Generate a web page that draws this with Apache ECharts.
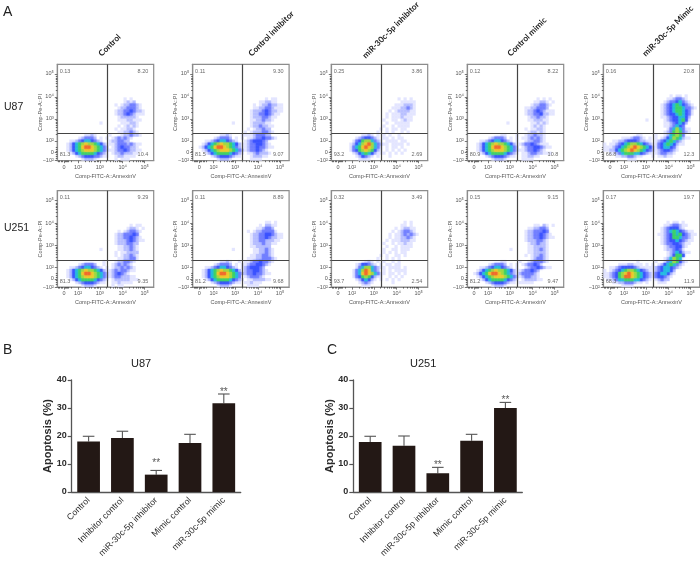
<!DOCTYPE html>
<html>
<head>
<meta charset="utf-8">
<title>Apoptosis flow cytometry</title>
<script src="https://cdn.jsdelivr.net/npm/echarts@6/dist/echarts.min.js"></script>
<style>
  html, body { margin: 0; padding: 0; background: #fff; }
  #chart { width: 700px; height: 565px; }
</style>
</head>
<body>
<div id="chart"></div>
<script>
// Flow plot names
const columnNames = ['Control', 'Control inhibitor', 'miR-30c-5p inhibitor', 'Control mimic', 'miR-30c-5p Mimic'];
const rowNames = ['U87', 'U251'];

// Quadrant percentages: upper left, upper right, lower left, lower right
const quadU87 = [
  ['0.13', '8.20', '81.3', '10.4'],
  ['0.11', '9.30', '81.5', '9.07'],
  ['0.25', '3.86', '93.2', '2.69'],
  ['0.12', '8.22', '80.9', '10.8'],
  ['0.16', '20.8', '66.8', '12.3']
];
const quadU251 = [
  ['0.11', '9.29', '81.3', '9.35'],
  ['0.11', '8.89', '81.2', '9.68'],
  ['0.32', '3.49', '93.7', '2.54'],
  ['0.15', '9.15', '81.2', '9.47'],
  ['0.17', '19.7', '68.3', '11.9']
];

// Flow axes, in density grid channels (32 x 32)
const xTickValues = [2.2, 6.9, 14.1, 21.7, 29];
const xTickLabels = ['0', '10²', '10³', '10⁴', '10⁵'];
const yTickValues = [0, 2.7, 6.6, 13.9, 21.2, 28.8];
const yTickLabels = ['−10²', '0', '10²', '10³', '10⁴', '10⁵'];
const xMinorTicks = [0.4, 0.8, 1.2, 1.6, 2.6, 3, 3.4, 3.8, 4.6, 9.2, 10.5, 11.4, 12.1, 12.7, 13.2, 13.6, 16.4, 17.7, 18.7, 19.4, 20, 20.5, 21, 21.3, 24, 25.3, 26.3, 27, 27.6, 28.1, 28.6];
const yMinorTicks = [0.8, 1.6, 2.2, 3.2, 3.8, 4.6, 8.8, 10, 11, 11.7, 12.3, 12.8, 13.3, 16.1, 17.4, 18.4, 19.1, 19.7, 20.2, 20.7, 23.4, 24.7, 25.7, 26.4, 27, 27.5, 28];
const gateX = 16.55;
const gateY = 9;

// Density: one digit per cell, lowest row of the plot last
const u87Control = [
  '......................1.1.......',
  '......................1212......',
  '...................1.1223321....',
  '....................12233321....',
  '...................1223343221...',
  '...................1223432111...',
  '....................1222221.....',
  '....................11122111....',
  '..............1......111221.....',
  '....................1.12121.....',
  '...................1.11221......',
  '....................1122321.....',
  '.........1121....1...1223221....',
  '.......123332.1.1.1232321.......',
  '....11234554321..1223322........',
  '...1245678776542111233323211....',
  '...12456899876532.123433221.....',
  '...1245678887653211233432211....',
  '....1245666654321.122322211.....',
  '......12344433211..1221111......',
  '........12221......1.111........'
];
const u87Inhibitor = [
  '........................1.11....',
  '......................112211....',
  '....................1.12232211..',
  '....................1122332111..',
  '...................12223432211..',
  '...................1223343211...',
  '...................122233211....',
  '...................11223221.....',
  '.............1.....1222211......',
  '...................12232211.....',
  '..................1.122322......',
  '.................1.12223321.....',
  '.........1121...1111233322......',
  '.......123332.1.1.1123343321....',
  '....11234554321..12344432.......',
  '...12456787765421123344321......',
  '..1245689987653211233433211.....',
  '...1245678887653212334321.......',
  '....1245666654321.11232221......',
  '......1234443211...122211.......',
  '........12221......1111.........'
];
const u87MirInhibitor = [
  '......................1.1.1.....',
  '.......................11111....',
  '.....................1112221....',
  '....................11122321....',
  '...................1.1222211....',
  '..................1.11122111....',
  '..................1.1112111.....',
  '.................1..11.1211.....',
  '..................1..11111......',
  '.................1..1.1111......',
  '................1.1.11.11.......',
  '...............1..1.1..1.1......',
  '..........1121.1.1.1..1.........',
  '........12344321.11.1.11........',
  '.......1346775321.1111.11.......',
  '......1245789753211.1111.1......',
  '......13568987531.1.11.1........',
  '......13467876421.1.1.1.1.......',
  '.......12456542111.1.1.1........',
  '........124321.1...1............',
  '.........1111...................'
];
const u87MimicControl = [
  '.......................1.1.1....',
  '......................11221.1...',
  '.....................1223321....',
  '...................11223332.....',
  '...................1223432111...',
  '...................1223342211...',
  '....................1223221.....',
  '....................1122211.....',
  '.............1.......112121.....',
  '.....................12121......',
  '...................1.11221......',
  '....................122121......',
  '...........11...1..1223221......',
  '.......123332.1.1.11232321......',
  '....11234554321.1..1223321......',
  '...124567877654211233432111.....',
  '...12456899876532.1233443211....',
  '...12456788876532112334321......',
  '....1245666654321.1123322111....',
  '......1234443211..112211........',
  '........12221.....1111..........'
];
const u87MirMimic = [
  '......................1.11.1....',
  '.....................1123321....',
  '....................123345321...',
  '...................12345654321..',
  '...................123456653321.',
  '...................12345665431..',
  '...................12344565431..',
  '...................1123445542...',
  '..............1.....123445641...',
  '....................11234542....',
  '....................1123543.....',
  '.....................13575311...',
  '....................123676321...',
  '...........11....1..1256763.....',
  '......11123321.1.1.1245765211...',
  '...1122344432211.1234565321.....',
  '1.1123456776543211345654211.....',
  '1112345678987654213455431.......',
  '1122456789876543212344321.......',
  '..1123566655432111233221........',
  '....112233211...1.11211.........',
  '........111.....................'
];
const u251Control = [
  '........................1.11....',
  '.......................1221.1...',
  '....................1.123321....',
  '...................12233343.....',
  '...................122334321....',
  '...................1222343211...',
  '...................12223322.....',
  '....................1122321.....',
  '..............1.....1122321.....',
  '...................1.112222.....',
  '...................1.122321.....',
  '....................1122331.....',
  '...............1...1223321......',
  '.......123332..1..1232321.......',
  '....11234554321.1.12232321......',
  '...12456787765421123233211......',
  '...124568998765321234321........',
  '...12456788876532123322211......',
  '....1245666654321.122222111.....',
  '......1234443211..1121111.......',
  '........12221.....1.11..........'
];
const u251Inhibitor = [
  '........................11.1....',
  '......................1.2211....',
  '.....................112332.....',
  '..................1.12233331....',
  '...................12233443211..',
  '...................12233432211..',
  '...................1223322211...',
  '...................122232211....',
  '...................1122222......',
  '.............1......1122321.....',
  '....................1122321.....',
  '...................11223321.....',
  '..................1112233321....',
  '.........1121..1.1123343321.....',
  '.......123332.1.1123344321......',
  '....11234554321.12344432........',
  '...1245678776542123344321.......',
  '...12456899876532233433211......',
  '...1245678887653.1233321........',
  '....1245666654321.11222211......',
  '......1234443211.112111.........',
  '........12221.....1111..........'
];
const u251MirInhibitor = [
  '........................1.1.....',
  '.......................11.1.....',
  '.....................1.12211....',
  '....................1.123321....',
  '...................1.11232321...',
  '...................1.1122321....',
  '..................1.11122211....',
  '.................1..1.11211.....',
  '..................1..1.1111.....',
  '.................1..11.111......',
  '.................1.1.1.11.......',
  '................1.1..11.1.......',
  '...............1..1.1.1.........',
  '...........121.1.1..1.1.........',
  '........1244321.1.11.11.........',
  '........1357753211.1111.1.......',
  '.......135798532.1.1.1111.......',
  '.......13589875311.11.1.1.......',
  '.......1346764211..1.1.1........',
  '........1245421.1.1.1.1.........',
  '.........12321......1...........',
  '..........111...................'
];
const u251MimicControl = [
  '......................11.21.1...',
  '....................1122332.....',
  '...................12233343.....',
  '...................122334321....',
  '...................1223343211...',
  '...................12223321.....',
  '....................1223221.....',
  '....................1122221.....',
  '..............1.....1122321.....',
  '....................1122221.....',
  '...................1.122321.....',
  '.....................123321.....',
  '...........11....1..1233321.....',
  '.......123332.1.1.1233431.......',
  '....11234554321.1..123343211....',
  '...124567877654211233432........',
  '..1245689987653212333321........',
  '...124567888765321233221........',
  '....1245666654321.1222211.......',
  '......1234443211.11111..........',
  '........12221...................'
];
const u251MirMimic = [
  '.....................1.11.1.....',
  '....................11233211....',
  '...................12344421.....',
  '...................12356543211..',
  '..................1123465643211.',
  '...................12346653321..',
  '...................12344543211..',
  '...................1233443211...',
  '....................12334421....',
  '....................1223431.....',
  '.....................12354211...',
  '.....................124664.....',
  '....................125765......',
  '...........1.....1..13576421....',
  '.....11122111.1.1.124565321.....',
  '..112344443211111234554321......',
  '1.1234567765432112345542........',
  '112346789876543213455421........',
  '11234679987654321344321.........',
  '.112355666554321.12322..........',
  '...1122333211.1...111...........',
  '......1111......................'
];

// Bar charts
const barCategories = ['Control', 'Inhibitor control', 'miR-30c-5p inhibitor', 'Mimic control', 'miR-30c-5p mimic'];
const u87Values = [18.0, 19.3, 6.2, 17.5, 31.7];
const u87ErrorTop = [19.9, 21.7, 7.7, 20.6, 35.0];
const u87Stars = [null, null, 10.2, null, 35.6];
const u251Values = [17.9, 16.5, 6.7, 18.3, 30.0];
const u251ErrorTop = [19.9, 20.0, 8.8, 20.6, 32.0];
const u251Stars = [null, null, 9.4, null, 32.9];
const starText = '**';
const yTicksBar = { min: 0, max: 40, interval: 10 };

// Colours of the density levels, white to red
const densityColors = ['#ffffff', '#dcdfff', '#a8b0ff', '#6a78ff', '#3048ff', '#18b8e0', '#30d060', '#98d83a', '#eec820', '#f06020'];

const flowData = [
  [u87Control, u87Inhibitor, u87MirInhibitor, u87MimicControl, u87MirMimic],
  [u251Control, u251Inhibitor, u251MirInhibitor, u251MimicControl, u251MirMimic]
];
const flowQuads = [quadU87, quadU251];

// Layout in pixels
const flowLefts = [57.3, 192.7, 331.3, 467.3, 603.3];
const flowTops = [64.3, 190.7];
const flowSize = 96.4;
const labelFont = '"Liberation Sans", "DejaVu Sans", sans-serif';

// Hot cells are drawn last so that their soft edge lies over the cooler ones
function densityCells(rows) {
  const cells = [];
  rows.forEach((row, i) => {
    const rowIndex = rows.length - 1 - i;
    row.split('').forEach((ch, col) => {
      if (ch !== '.') {
        const level = Number(ch);
        cells.push({
          value: [col + 0.5, rowIndex + 0.5, level],
          itemStyle: { color: densityColors[level], shadowColor: densityColors[level], shadowBlur: level >= 3 ? 2 : 0 }
        });
      }
    });
  });
  return cells.sort((a, b) => a.value[2] - b.value[2]);
}

const grid = [];
const xAxis = [];
const yAxis = [];
const series = [];

function addFlowPlot(rows, quad, left, top) {
  const gridIndex = grid.length;
  const mainX = xAxis.length;
  const mainY = yAxis.length;
  grid.push({ left: left, top: top, width: flowSize, height: flowSize, show: true, borderColor: '#8c8c8c', borderWidth: 1.2, backgroundColor: '#fff' });

  const lineStyle = { color: '#8c8c8c', width: 1.2 };
  xAxis.push({
    type: 'value', gridIndex: gridIndex, min: 0, max: 32, position: 'bottom', splitLine: { show: false },
    axisLine: { show: true, onZero: false, lineStyle: lineStyle },
    axisTick: { show: true, length: 2.5, customValues: xTickValues, lineStyle: { color: '#555', width: 0.8 } },
    axisLabel: {
      customValues: xTickValues, margin: 3.5, fontSize: 5.5, color: '#555', fontFamily: labelFont,
      formatter: v => xTickLabels[xTickValues.indexOf(v)]
    },
    name: 'Comp-FITC-A::AnnexinV', nameLocation: 'middle', nameGap: 12.5, nameMoveOverlap: false,
    nameTextStyle: { fontSize: 5.5, color: '#555', fontFamily: labelFont }
  });
  xAxis.push({
    type: 'value', gridIndex: gridIndex, min: 0, max: 32, position: 'bottom', splitLine: { show: false },
    axisLine: { show: false },
    axisLabel: { show: false },
    axisTick: { show: true, length: 1.5, customValues: xMinorTicks, lineStyle: { color: '#333', width: 0.7 } }
  });
  yAxis.push({
    type: 'value', gridIndex: gridIndex, min: 0, max: 32, position: 'left', splitLine: { show: false },
    axisLine: { show: true, onZero: false, lineStyle: lineStyle },
    axisTick: { show: true, length: 2.5, customValues: yTickValues, lineStyle: { color: '#555', width: 0.8 } },
    axisLabel: {
      customValues: yTickValues, margin: 3.5, fontSize: 5.5, color: '#555', fontFamily: labelFont,
      formatter: v => yTickLabels[yTickValues.indexOf(v)]
    },
    name: 'Comp-Pe-A::PI', nameLocation: 'middle', nameGap: 14, nameMoveOverlap: false,
    nameTextStyle: { fontSize: 5.5, color: '#555', fontFamily: labelFont }
  });
  yAxis.push({
    type: 'value', gridIndex: gridIndex, min: 0, max: 32, position: 'left', splitLine: { show: false },
    axisLine: { show: false },
    axisLabel: { show: false },
    axisTick: { show: true, length: 1.5, customValues: yMinorTicks, lineStyle: { color: '#333', width: 0.7 } }
  });

  series.push({
    type: 'scatter', xAxisIndex: mainX, yAxisIndex: mainY, symbol: 'rect', symbolSize: 3.2, silent: true,
    data: densityCells(rows),
    markLine: {
      silent: true, symbol: 'none', animation: false, label: { show: false },
      lineStyle: { type: 'solid', color: '#444', width: 1.2 },
      data: [{ xAxis: gateX }, { yAxis: gateY }]
    }
  });

  // Quadrant percentages
  const quadLabel = (x, y, text, align) => ({
    value: [x, y],
    label: { show: true, position: 'inside', align: align, verticalAlign: 'middle', formatter: text, fontSize: 5.5, color: '#444', fontFamily: labelFont }
  });
  series.push({
    type: 'scatter', xAxisIndex: mainX, yAxisIndex: mainY, symbolSize: 1, silent: true,
    itemStyle: { color: 'transparent' },
    data: [
      quadLabel(0.8, 29.7, quad[0], 'left'),
      quadLabel(30.2, 29.7, quad[1], 'right'),
      quadLabel(0.8, 1.9, quad[2], 'left'),
      quadLabel(30.2, 1.9, quad[3], 'right')
    ]
  });
}

function addBarPlot(values, errorTop, stars, left) {
  const gridIndex = grid.length;
  const xi = xAxis.length;
  const yi = yAxis.length;
  grid.push({ left: left, top: 380, width: 169, height: 112 });
  xAxis.push({
    type: 'category', gridIndex: gridIndex, data: barCategories,
    axisLine: { lineStyle: { color: '#555', width: 1.3 } },
    axisTick: { alignWithLabel: true, length: 4, lineStyle: { color: '#555', width: 1.2 } },
    axisLabel: { interval: 0, rotate: 45, margin: 7, fontSize: 8.8, color: '#2b2b2b', fontFamily: labelFont }
  });
  yAxis.push({
    type: 'value', gridIndex: gridIndex, min: yTicksBar.min, max: yTicksBar.max, interval: yTicksBar.interval,
    splitLine: { show: false },
    axisLine: { show: true, lineStyle: { color: '#555', width: 1.3 } },
    axisTick: { show: true, length: 4, lineStyle: { color: '#555', width: 1.2 } },
    axisLabel: { margin: 5, fontSize: 9, fontWeight: 'bold', color: '#2b2b2b', fontFamily: labelFont },
    name: 'Apoptosis (%)', nameLocation: 'middle', nameGap: 18, nameMoveOverlap: false,
    nameTextStyle: { fontSize: 11, fontWeight: 'bold', color: '#2b2b2b', fontFamily: labelFont }
  });
  series.push({
    type: 'bar', xAxisIndex: xi, yAxisIndex: yi, barWidth: 22.7, data: values,
    itemStyle: { color: '#231815' }
  });
  series.push({
    type: 'custom', xAxisIndex: xi, yAxisIndex: yi, silent: true, z: 1,
    data: values.map((v, i) => [i, v, errorTop[i]]),
    renderItem: (params, api) => {
      const base = api.coord([api.value(0), api.value(1)]);
      const top = api.coord([api.value(0), api.value(2)]);
      const style = { stroke: '#555', lineWidth: 1.1 };
      return {
        type: 'group',
        children: [
          { type: 'line', shape: { x1: base[0], y1: base[1], x2: top[0], y2: top[1] }, style: style },
          { type: 'line', shape: { x1: top[0] - 5.8, y1: top[1], x2: top[0] + 5.8, y2: top[1] }, style: style }
        ]
      };
    }
  });
  series.push({
    type: 'scatter', xAxisIndex: xi, yAxisIndex: yi, symbolSize: 1, silent: true,
    itemStyle: { color: 'transparent' },
    data: stars.map((s, i) => [i, s]).filter(d => d[1] !== null),
    label: { show: true, position: 'inside', formatter: starText, fontSize: 10, color: '#2b2b2b', fontFamily: labelFont }
  });
}

flowData.forEach((panels, r) => {
  panels.forEach((rows, c) => addFlowPlot(rows, flowQuads[r][c], flowLefts[c], flowTops[r]));
});
addBarPlot(u87Values, u87ErrorTop, u87Stars, 71.7);
addBarPlot(u251Values, u251ErrorTop, u251Stars, 353.3);

// Loose text: panel letters, cell lines and rotated column names
const columnAnchors = [[100, 55], [250, 55], [364, 57], [509, 55], [644, 55]];
const plainText = (text, x, y, font) => ({
  type: 'text', x: x, y: y, silent: true,
  style: { text: text, font: font, fill: '#222', textAlign: 'left', textVerticalAlign: 'middle' }
});
const graphic = [
  plainText('A', 3, 12, '14px ' + labelFont),
  plainText('B', 3, 350, '14px ' + labelFont),
  plainText('C', 327, 350, '14px ' + labelFont),
  plainText(rowNames[0], 4, 107, '10.5px ' + labelFont),
  plainText(rowNames[1], 4, 228, '10.5px ' + labelFont),
  plainText('U87', 131, 364, '11px ' + labelFont),
  plainText('U251', 410, 364, '11px ' + labelFont)
];
columnNames.forEach((name, i) => {
  const t = plainText(name, columnAnchors[i][0], columnAnchors[i][1], 'bold 8.2px Lato, "Open Sans", sans-serif');
  t.rotation = Math.PI / 4;
  graphic.push(t);
});

const chart = echarts.init(document.getElementById('chart'));
chart.setOption({
  animation: false,
  backgroundColor: '#fff',
  grid: grid,
  xAxis: xAxis,
  yAxis: yAxis,
  series: series,
  graphic: graphic
});
</script>
</body>
</html>
